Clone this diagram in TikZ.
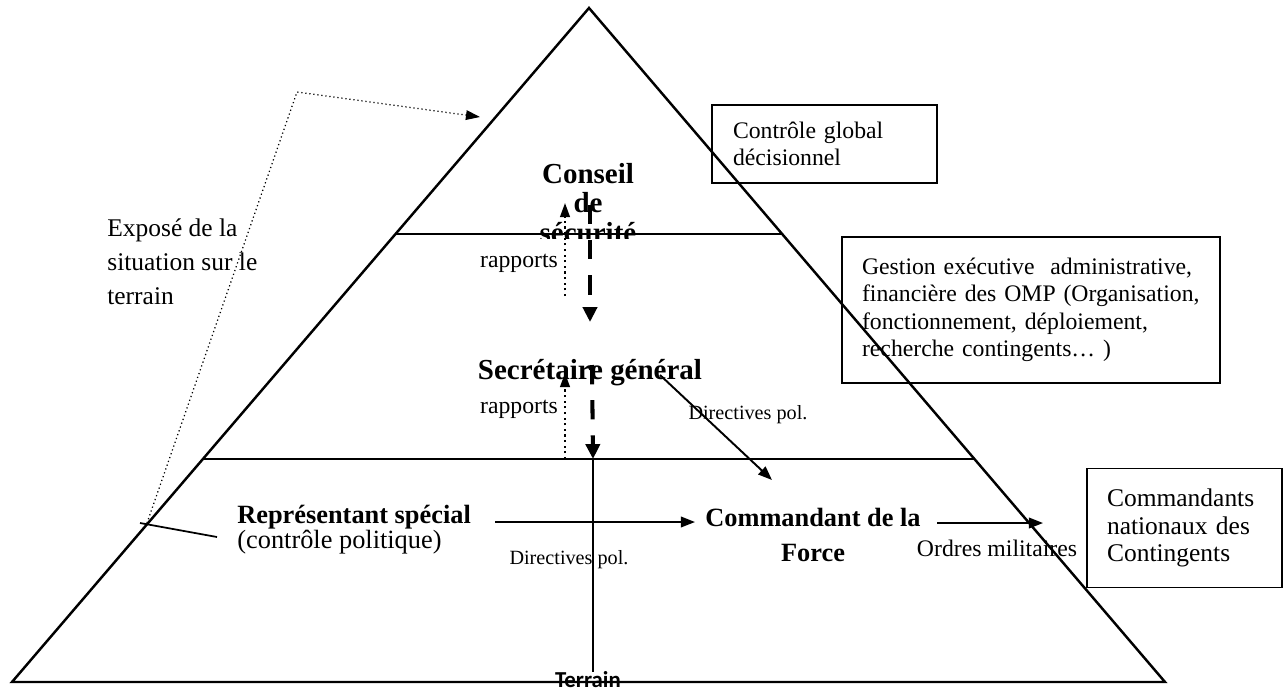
\documentclass[tikz,border=0pt]{standalone}
\usepackage{fontspec}
\setmainfont{Liberation Serif}
\newfontfamily\terrainfont{Carlito}
\definecolor{omInk}{HTML}{000000}
\usetikzlibrary{positioning,calc,arrows.meta}

\begin{document}
\begin{tikzpicture}[x=0.02cm,y=-0.02cm,
                    pyr/.style={draw=omInk,line width=1.4pt,line join=miter},
                    tier/.style={draw=omInk,line width=1.1pt},
                    organ/.style={font=\fontsize{16.5}{17}\selectfont\bfseries,align=center,inner sep=0pt},
                    actor/.style={font=\fontsize{15}{20.4}\selectfont\bfseries,align=center,inner sep=0pt},
                    remark/.style={font=\fontsize{14.5}{19.3}\selectfont,align=left,inner sep=0pt},
                    tag/.style={font=\fontsize{13.5}{16}\selectfont,inner sep=0pt},
                    smalltag/.style={font=\fontsize{11.5}{14}\selectfont,inner sep=0pt},
                    notebox/.style={draw=omInk,line width=0.9pt,align=left,
                                    font=\fontsize{13.5}{15.6}\selectfont},
                    order/.style={-{Triangle[length=8pt,width=6pt]},draw=omInk,line width=1.1pt},
                    report/.style={-{Triangle[length=8pt,width=5.5pt]},draw=omInk,
                                   line width=1.2pt,dotted},
                    directive/.style={-{Triangle[length=8.5pt,width=8pt]},draw=omInk,
                                      line width=2.3pt,dash pattern=on 11pt off 9pt}]
  \useasboundingbox (0,0) rectangle (1287,693);

  % the council's label is cut off by the first tier
  \begin{scope}
    \clip (0,0) rectangle (1287,238);
    \node[organ] (cs) at (588,203) {Conseil\\de\\sécurité};
  \end{scope}

  % pyramid and its three tiers
  \coordinate (apex) at (589,8);
  \coordinate (bl) at (12,682);
  \coordinate (br) at (1165,682);
  \draw[pyr] (apex) -- (bl) -- (br) -- cycle;
  \draw[tier] ($(apex)!0.3353!(bl)$) -- ($(apex)!0.3353!(br)$);
  \draw[tier] ($(apex)!0.6691!(bl)$) -- ($(apex)!0.6691!(br)$);

  \node[organ] (sg) at (590,373) {Secrétaire général};
  \node[actor,anchor=west] (rs) at (237,517) {Représentant spécial};
  \node[remark,anchor=north west,font=\fontsize{15}{18}\selectfont] (rsnote) at (rs.south west) {(contrôle politique)};
  \node[actor] (cf) at (813,535) {Commandant de la\\Force};
  \node[remark,anchor=west] (expose) at (107,262) {Exposé de la\\situation sur le\\terrain};

  \node[tag] (rap1) at (519,263) {rapports};
  \node[tag] (rap2) at (519,409) {rapports};
  \node[smalltag] (dir1) at (569,560) {Directives pol.};
  \node[smalltag] (dir2) at (748,415) {Directives pol.};
  \node[tag] (ordres) at (997,548) {Ordres militaires};
  \node[font=\terrainfont\fontsize{13}{13}\selectfont\bfseries,inner sep=0pt] (terrain) at (588,680) {Terrain};

  \node[notebox,text width=3.66cm,inner xsep=0.42cm,minimum height=1.56cm] (global) at (824.5,144)
    {Contrôle global\\décisionnel};
  \node[notebox,text width=6.76cm,inner xsep=0.4cm,minimum height=2.92cm] (gestion) at (1031,310)
    {Gestion exécutive~ administrative,\\financière des OMP (Organisation,\\fonctionnement, déploiement,\\recherche contingents… )};
  \node[notebox,text width=3.1cm,inner xsep=0.4cm,minimum height=2.38cm,
        font=\fontsize{14.5}{15.6}\selectfont] (nationaux) at (1184.5,528)
    {Commandants\\nationaux des\\Contingents};

  % vertical flows between the tiers
  \coordinate (rep1a) at (565,296);
  \coordinate (rep1b) at (565,203);
  \coordinate (rep2a) at (565,459);
  \coordinate (rep2b) at (565,373);
  \draw[report] (rep1a) -- (rep1b);
  \draw[report] (rep2a) -- (rep2b);
  \coordinate (dir1a) at (590,205);
  \coordinate (dir1b) at (590,322);
  \coordinate (dir2a) at (592,365);
  \coordinate (ground) at (593,459);
  \draw[directive] (dir1a) -- (dir1b);
  \draw[directive] (dir2a) -- (ground);
  \draw[draw=omInk,line width=0.9pt] (ground) -- (ground |- terrain.north);

  % political and military orders
  \coordinate (sgout) at (660,375);
  \coordinate (cfin) at (772,480);
  \draw[order] (sgout) -- (cfin);
  \coordinate (rsout) at (495,522);
  \coordinate (cfleft) at (695,522);
  \draw[order] (rsout) -- (cfleft);
  \coordinate (cfout) at (937,523);
  \coordinate (natin) at (1043,523);
  \draw[order] (cfout) -- (natin);

  % briefing from the field up to the council
  \coordinate (rstail) at (217,537);
  \coordinate (edge) at (140,523);
  \coordinate (brief) at (147,523);
  \coordinate (bend) at (297,92);
  \coordinate (council) at (480,117);
  \draw[draw=omInk,line width=1pt] (rstail) -- (edge);
  \draw[-{Triangle[length=8pt,width=5.5pt]},draw=omInk,line width=0.7pt,
        dash pattern=on 0.7pt off 1.6pt] (brief) -- (bend) -- (council);
\end{tikzpicture}
\end{document}
